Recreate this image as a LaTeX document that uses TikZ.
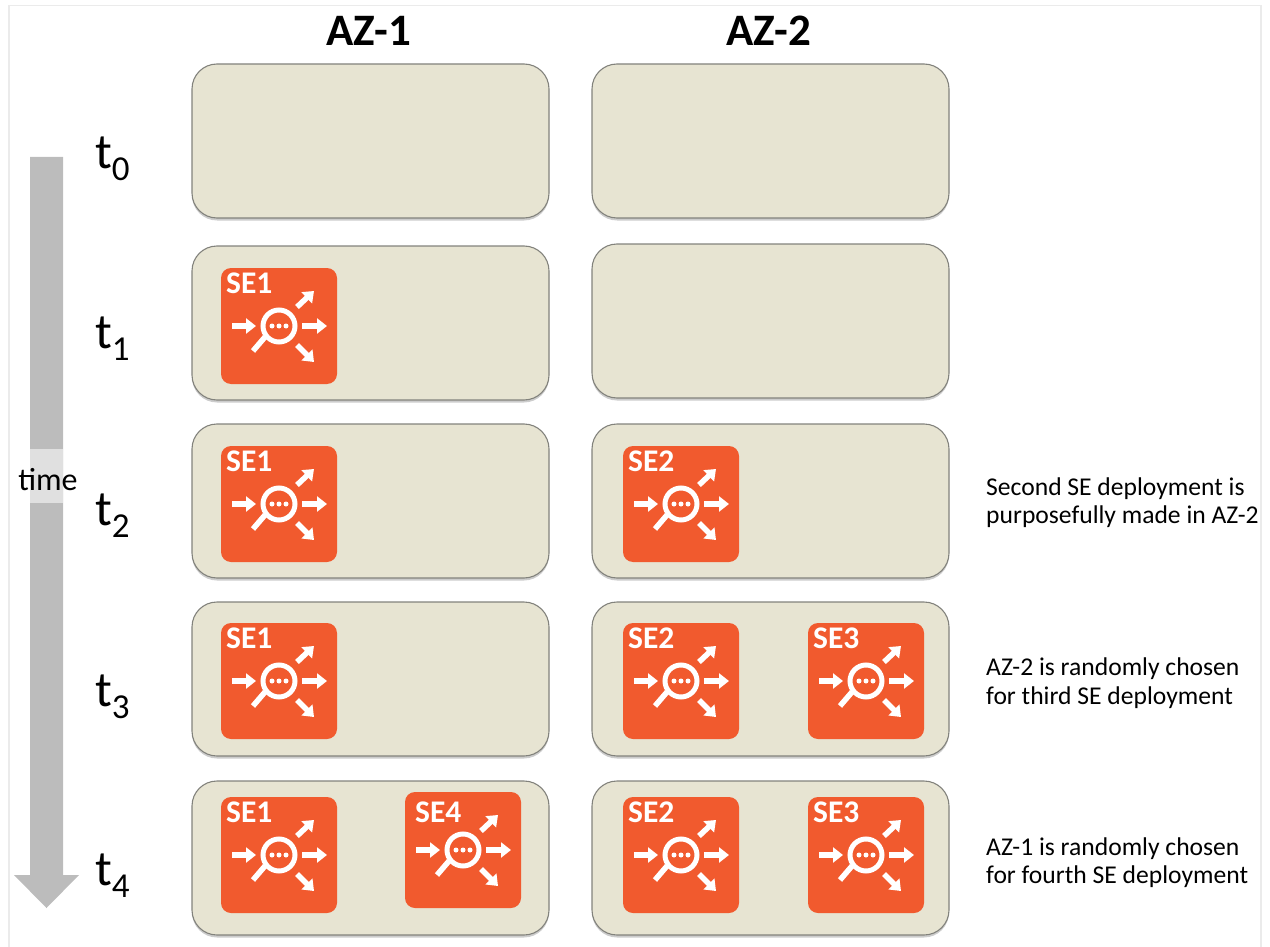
\documentclass[tikz,border=0pt]{standalone}
\usepackage{fontspec}
\setmainfont{Carlito}
\usetikzlibrary{arrows.meta, shadows}
\definecolor{panelfill}{HTML}{E7E4D2}
\definecolor{paneledge}{HTML}{82827C}
\definecolor{seorange}{HTML}{F15A2E}
\definecolor{timegray}{HTML}{BCBCBC}
\definecolor{timelight}{HTML}{E0E0E0}
\definecolor{framegray}{HTML}{EBEBEB}
\newcommand{\fsize}[1]{\fontsize{#1}{#1}\selectfont}
\newcommand{\tlabel}[1]{t\raisebox{-12pt}{\fsize{35}#1}}
\tikzset{
	panel/.style={draw=paneledge, line width=1.1pt, fill=panelfill, rounded corners=25pt,
		drop shadow={shadow xshift=0pt, shadow yshift=-2.5pt, opacity=.2, fill=black}},
	seicon/.style={fill=seorange, rounded corners=10pt},
	searrow/.style={white, line width=5.5pt, -{Triangle[length=10pt, width=15pt]}},
	azlabel/.style={font=\fsize{45}\bfseries, anchor=center},
	tname/.style={font=\fsize{50}, anchor=base west, inner sep=0pt},
	senote/.style={font=\fsize{25.6}, anchor=west, align=left, inner sep=0pt},
}
% one SE box, #1 place of text, #2 name, (#3,#4) top left corner, #5 text
\newcommand{\sebox}[5][5,25]{
	\begin{scope}[shift={(#3,#4)}]
		\path[seicon] (0,0) rectangle (116,116);
		\node [font=\fsize{31.5}\bfseries, text=white, anchor=base west, inner sep=0pt] (#2) at (#1) {#5};
		\draw[white, line width=5pt] (58,58) circle (16);
		\draw[white, line width=5.5pt] (44,69) -- (32,83);
		\foreach \dx in {-7,0,7}
			\fill[white] (58+\dx,58) circle (2.5);
		\draw[searrow] (11,58) -- (35,58);
		\draw[searrow] (81,58) -- (106,58);
		\draw[searrow] (76,39) -- (93,23);
		\draw[searrow] (76,77) -- (93,94);
	\end{scope}
}
\begin{document}
\begin{tikzpicture}[x=1pt, y=-1pt]
	\useasboundingbox (0,0) rectangle (1270,947);
	\draw[framegray, line width=1.5pt] (9,947) -- (9,5.5) -- (1261,5.5) -- (1261,947);

	% time arrow
	\fill[timegray] (30,157) -- (63,157) -- (63,875) -- (79,875) -- (46.5,908) -- (14,875) -- (30,875) -- cycle;
	\fill[timelight] (30,449) rectangle (63,503);
	\node [font=\fsize{32}, inner sep=0pt] (time) at (48,480) {time};

	% headers
	\node [azlabel] (az1) at (369,31) {AZ-1};
	\node [azlabel] (az2) at (769,31) {AZ-2};

	% rows
	\foreach \name/\xa/\ya in {
		pa0/192/64, pa1/192/246, pa2/192/424, pa3/192/602, pa4/192/781,
		pb0/592/64, pb1/592/244, pb2/592/424, pb3/592/602, pb4/592/781}
		\path[panel] (\xa,\ya) rectangle +(357,154);

	\foreach \name/\ya/\lab in {t0/169/0, t1/348/1, t2/525/2, t3/706/3, t4/885/4}
		\node [tname] (\name) at (95,\ya) {\tlabel{\lab}};

	% SE boxes
	\foreach \name/\xa/\ya/\lab in {
		sea/221/268/SE1, seb/221/446/SE1, sec/221/623/SE1, sed/221/797/SE1,
		sef/623/446/SE2, seg/623/623/SE2, seh/623/797/SE2,
		sei/808/623/SE3, sej/808/797/SE3}
		{\sebox{\name}{\xa}{\ya}{\lab}}
	\sebox[10,30]{see}{405}{792}{SE4}

	% notes
	\node [senote] (note2) at (986,502.5) {Second SE deployment is\\[3pt]purposefully made in AZ-2};
	\node [senote] (note3) at (986,683) {AZ-2 is randomly chosen\\[3pt]for third SE deployment};
	\node [senote] (note4) at (986,862.5) {AZ-1 is randomly chosen\\[3pt]for fourth SE deployment};
\end{tikzpicture}
\end{document}
